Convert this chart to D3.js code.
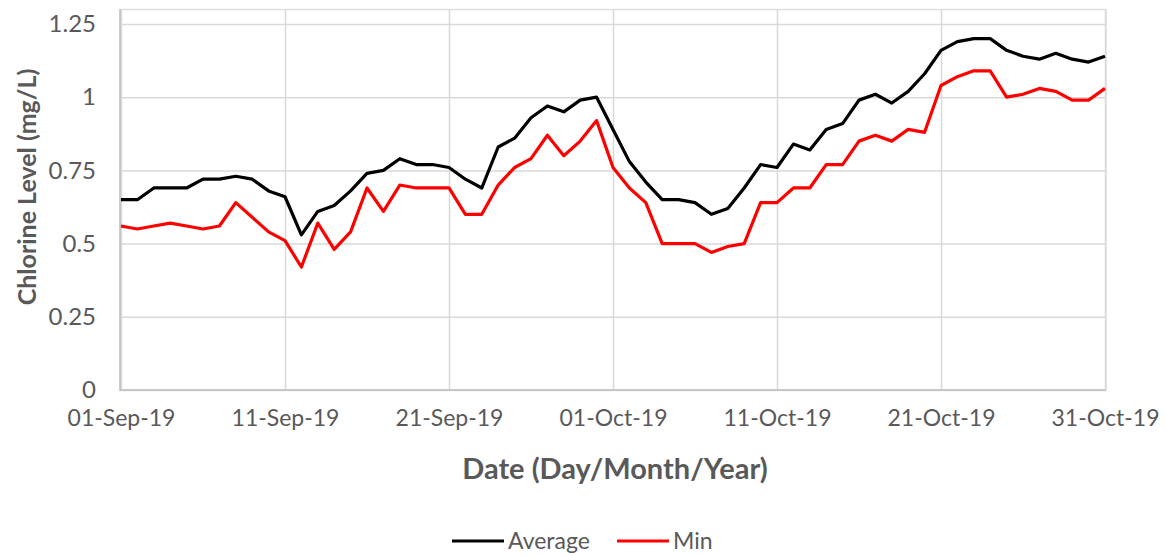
<!DOCTYPE html>
<html>
<head>
<meta charset="utf-8">
<script src="https://cdn.jsdelivr.net/npm/d3@7"></script>
<style>
  body { margin: 0; background: #fff; }
  text { font-family: Lato, "Open Sans", sans-serif; fill: #595959; }
</style>
</head>
<body>
<div id="chart"></div>
<script>
// daily readings, 01-Sep-19 .. 31-Oct-19
const startDate = new Date(2019, 8, 1);
const endDate = new Date(2019, 9, 31);
const average = [0.65,0.65,0.69,0.69,0.69,0.72,0.72,0.73,0.72,0.68,
  0.66,0.53,0.61,0.63,0.68,0.74,0.75,0.79,0.77,0.77,
  0.76,0.72,0.69,0.83,0.86,0.93,0.97,0.95,0.99,1.00,
  0.89,0.78,0.71,0.65,0.65,0.64,0.60,0.62,0.69,0.77,
  0.76,0.84,0.82,0.89,0.91,0.99,1.01,0.98,1.02,1.08,
  1.16,1.19,1.20,1.20,1.16,1.14,1.13,1.15,1.13,1.12,1.14];
const minimum = [0.56,0.55,0.56,0.57,0.56,0.55,0.56,0.64,0.59,0.54,
  0.51,0.42,0.57,0.48,0.54,0.69,0.61,0.70,0.69,0.69,
  0.69,0.60,0.60,0.70,0.76,0.79,0.87,0.80,0.85,0.92,
  0.76,0.69,0.64,0.50,0.50,0.50,0.47,0.49,0.50,0.64,
  0.64,0.69,0.69,0.77,0.77,0.85,0.87,0.85,0.89,0.88,
  1.04,1.07,1.09,1.09,1.00,1.01,1.03,1.02,0.99,0.99,1.03];
const yTicks = [0, 0.25, 0.5, 0.75, 1, 1.25];
const seriesNames = ["Average", "Min"];
const seriesColors = ["#000000", "#ff0000"];

const W = 1167, H = 556;
const dates = d3.timeDay.range(startDate, d3.timeDay.offset(endDate, 1));
const series = [average, minimum];

const svg = d3.select("#chart").append("svg")
  .attr("width", W)
  .attr("height", H);

const x = d3.scaleTime().domain([startDate, endDate]).range([121, 1105]);
const y = d3.scaleLinear().domain([0, 1.25]).range([390, 24]);

const xTicks = d3.timeDay.range(startDate, d3.timeDay.offset(endDate, 1), 10);
const fmt = d3.timeFormat("%d-%b-%y");

// plot area frame
svg.append("rect")
  .attr("x", 120.5).attr("y", 9.5)
  .attr("width", 985.5).attr("height", 380.5)
  .attr("fill", "none")
  .attr("stroke", "#d9d9d9")
  .attr("stroke-width", 1.3);

// horizontal grid
svg.append("g")
  .attr("transform", "translate(120,0)")
  .call(d3.axisLeft(y).tickValues(yTicks).tickSize(-986).tickFormat(""))
  .call(g => g.select(".domain").remove())
  .call(g => g.selectAll(".tick line").attr("stroke", "#d9d9d9").attr("stroke-width", 1.5));

// vertical grid
svg.append("g")
  .attr("transform", "translate(0,390)")
  .call(d3.axisBottom(x).tickValues(xTicks).tickSize(-381).tickFormat(""))
  .call(g => g.select(".domain").remove())
  .call(g => g.selectAll(".tick line").attr("stroke", "#d9d9d9").attr("stroke-width", 1.5));

// axis lines
svg.append("line")
  .attr("x1", 120).attr("x2", 120).attr("y1", 9).attr("y2", 391)
  .attr("stroke", "#bfbfbf").attr("stroke-width", 1.5);
svg.append("line")
  .attr("x1", 120).attr("x2", 1106).attr("y1", 390).attr("y2", 390)
  .attr("stroke", "#bfbfbf").attr("stroke-width", 1.5);

// tick labels
svg.append("g")
  .attr("transform", "translate(96,0)")
  .call(d3.axisLeft(y).tickValues(yTicks).tickSize(0).tickPadding(0).tickFormat(d3.format("")))
  .call(g => g.select(".domain").remove())
  .call(g => g.selectAll(".tick text")
    .style("font-size", "24px").attr("fill", "#595959"));

svg.append("g")
  .attr("transform", "translate(0,410)")
  .call(d3.axisBottom(x).tickValues(xTicks).tickSize(0).tickPadding(0).tickFormat(fmt))
  .call(g => g.select(".domain").remove())
  .call(g => g.selectAll(".tick text")
    .style("font-size", "23px").attr("fill", "#595959"));

// lines
const line = d3.line()
  .x((d, i) => x(dates[i]))
  .y(d => y(d));

svg.selectAll(".series")
  .data(series)
  .join("path")
  .attr("class", "series")
  .attr("fill", "none")
  .attr("stroke", (d, i) => seriesColors[i])
  .attr("stroke-width", 3.2)
  .attr("stroke-linejoin", "round")
  .attr("d", line);

// axis titles
svg.append("text")
  .attr("transform", "translate(36,187) rotate(-90)")
  .attr("text-anchor", "middle")
  .style("font-size", "25px")
  .style("font-weight", "bold")
  .text("Chlorine Level (mg/L)");

svg.append("text")
  .attr("x", 615).attr("y", 479)
  .attr("text-anchor", "middle")
  .style("font-size", "29px")
  .style("font-weight", "bold")
  .text("Date (Day/Month/Year)");

// legend
const legendX = [452, 617];
const leg = svg.append("g").selectAll("g")
  .data(seriesNames)
  .join("g")
  .attr("transform", (d, i) => `translate(${legendX[i]},541)`);
leg.append("line")
  .attr("x1", 0).attr("x2", 52)
  .attr("stroke", (d, i) => seriesColors[i])
  .attr("stroke-width", 3.2);
leg.append("text")
  .attr("x", 56).attr("dy", "0.35em")
  .style("font-size", "23px")
  .text(d => d);
</script>
</body>
</html>
